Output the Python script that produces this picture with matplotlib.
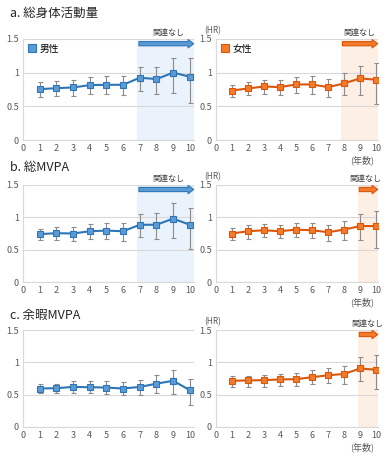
import matplotlib
matplotlib.use("Agg")
import matplotlib.pyplot as plt
from matplotlib.patches import FancyArrowPatch
from matplotlib.lines import Line2D

plt.rcParams['font.family'] = ['Noto Sans CJK JP', 'DejaVu Sans']

years = [1, 2, 3, 4, 5, 6, 7, 8, 9, 10]

# a. 総身体活動量
a_m = [0.755, 0.77, 0.78, 0.815, 0.82, 0.82, 0.925, 0.905, 1.0, 0.94]
a_m_hi = [0.855, 0.88, 0.89, 0.93, 0.945, 0.95, 1.09, 1.08, 1.22, 1.22]
a_m_lo = [0.645, 0.66, 0.66, 0.685, 0.68, 0.67, 0.735, 0.685, 0.695, 0.545]
a_f = [0.735, 0.765, 0.795, 0.785, 0.825, 0.825, 0.785, 0.84, 0.915, 0.895]
a_f_hi = [0.81, 0.865, 0.895, 0.895, 0.935, 0.945, 0.905, 0.99, 1.10, 1.15]
a_f_lo = [0.645, 0.665, 0.685, 0.665, 0.695, 0.69, 0.635, 0.665, 0.67, 0.53]

# b. 総MVPA
b_m = [0.74, 0.755, 0.75, 0.785, 0.795, 0.785, 0.885, 0.885, 0.98, 0.885]
b_m_hi = [0.825, 0.855, 0.855, 0.89, 0.915, 0.915, 1.045, 1.07, 1.215, 1.15]
b_m_lo = [0.645, 0.645, 0.635, 0.66, 0.66, 0.64, 0.70, 0.67, 0.685, 0.51]
b_f = [0.75, 0.785, 0.80, 0.785, 0.81, 0.80, 0.77, 0.81, 0.865, 0.865]
b_f_hi = [0.84, 0.875, 0.90, 0.885, 0.92, 0.92, 0.885, 0.95, 1.045, 1.10]
b_f_lo = [0.655, 0.67, 0.69, 0.68, 0.69, 0.68, 0.63, 0.645, 0.645, 0.53]

# c. 余暇MVPA
c_m = [0.595, 0.60, 0.62, 0.615, 0.61, 0.595, 0.62, 0.67, 0.715, 0.57]
c_m_hi = [0.67, 0.67, 0.71, 0.705, 0.705, 0.69, 0.73, 0.80, 0.875, 0.735]
c_m_lo = [0.52, 0.52, 0.53, 0.52, 0.51, 0.49, 0.50, 0.525, 0.515, 0.335]
c_f = [0.715, 0.72, 0.725, 0.735, 0.74, 0.77, 0.80, 0.82, 0.905, 0.885]
c_f_hi = [0.79, 0.79, 0.80, 0.815, 0.83, 0.875, 0.91, 0.95, 1.08, 1.115]
c_f_lo = [0.62, 0.625, 0.625, 0.635, 0.64, 0.67, 0.68, 0.67, 0.705, 0.585]

titles = ["a. 総身体活動量", "b. 総MVPA", "c. 余暇MVPA"]
# start of "関連なし" region (None = no region)
m_start = [6.85, 6.85, None]
f_start = [7.8, 8.85, 8.85]
# where the "関連なし" label sits
m_lab = [8.7, 8.7, None]
f_lab = [8.95, 9.3, 9.45]

W, H = 389, 458
fig = plt.figure(figsize=(W / 100, H / 100), dpi=100)

BLUE_L, BLUE_D = "#5B9BD5", "#2E75B6"
ORG_L, ORG_D = "#F47B2A", "#D9560B"
GRID = "#D9D9D9"
TXT = "#595959"


def px(x, y):
    return x / W, 1 - y / H


rows = [(39, 140), (185, 282), (330, 427)]
title_y = [13, 168, 315]
data = [
    (a_m, a_m_hi, a_m_lo, a_f, a_f_hi, a_f_lo),
    (b_m, b_m_hi, b_m_lo, b_f, b_f_hi, b_f_lo),
    (c_m, c_m_hi, c_m_lo, c_f, c_f_hi, c_f_lo),
]


def panel(ax, xmax, vals, hi, lo, light, dark, start, lab_x, shade, label, legend):
    ax.set_xlim(0, xmax)
    ax.set_ylim(0, 1.5)
    if start is not None:
        ax.axvspan(start, xmax, color=shade, zorder=0, lw=0)
        arr = FancyArrowPatch((start + 0.1, 1.43), (xmax - 0.02, 1.43),
                              arrowstyle="simple,head_length=4,head_width=6,tail_width=3",
                              fc=light, ec=dark, lw=0.8, zorder=5, clip_on=False,
                              shrinkA=0, shrinkB=0)
        ax.add_patch(arr)
        ax.text(lab_x, 1.53, "関連なし", ha="center", va="bottom",
                fontsize=5.8, color="#404040", clip_on=False)
    ax.set_yticks([0, 0.5, 1, 1.5])
    ax.set_yticklabels(["0", "0.5", "1", "1.5"])
    ax.set_xticks(range(0, 11))
    ax.yaxis.grid(True, color=GRID, lw=0.8)
    ax.set_axisbelow(True)
    for s in ["top", "right"]:
        ax.spines[s].set_visible(False)
    for s in ["left", "bottom"]:
        ax.spines[s].set_color(GRID)
    ax.tick_params(length=0, labelsize=6.5, labelcolor=TXT, pad=3)
    err = [[v - l for v, l in zip(vals, lo)], [h - v for v, h in zip(vals, hi)]]
    ax.errorbar(years, vals, yerr=err, fmt="none", ecolor="#8C8C8C",
                elinewidth=0.8, capsize=1.8, capthick=0.8, zorder=3)
    ax.plot(years, vals, color=dark, lw=1.5,
            marker="s", ms=4, mfc=light, mec=dark, mew=0.8, zorder=4)
    if legend:
        h = Line2D([], [], ls="none", marker="s", ms=6, mfc=light, mec=dark, mew=0.8)
        ax.legend([h], [label], loc="upper left", frameon=False, fontsize=7,
                  handletextpad=0.4, handlelength=0.8, borderpad=0.3,
                  borderaxespad=0.2)


for i in range(3):
    top, bot = rows[i]
    l0, b0 = px(23, bot)
    axl = fig.add_axes([l0, b0, (194 - 23) / W, (bot - top) / H])
    l1, _ = px(216, bot)
    axr = fig.add_axes([l1, b0, (378 - 216) / W, (bot - top) / H])
    m, mh, ml, f, fh, fl = data[i]
    panel(axl, 10.25, m, mh, ml, BLUE_L, BLUE_D, m_start[i], m_lab[i], "#EAF2FB", "男性", i == 0)
    panel(axr, 10.12, f, fh, fl, ORG_L, ORG_D, f_start[i], f_lab[i], "#FDEFE4", "女性", i == 0)

    fig.text(*px(10, title_y[i]), titles[i], fontsize=9, va="center", ha="left", color="#262626")
    fig.text(*px(213, top - 8), "(HR)", fontsize=6, va="center", ha="center", color=TXT)
    fig.text(*px(362, bot + 20), "(年数)", fontsize=6.5, va="center", ha="center", color=TXT)

fig.savefig("out.png", dpi=100)
